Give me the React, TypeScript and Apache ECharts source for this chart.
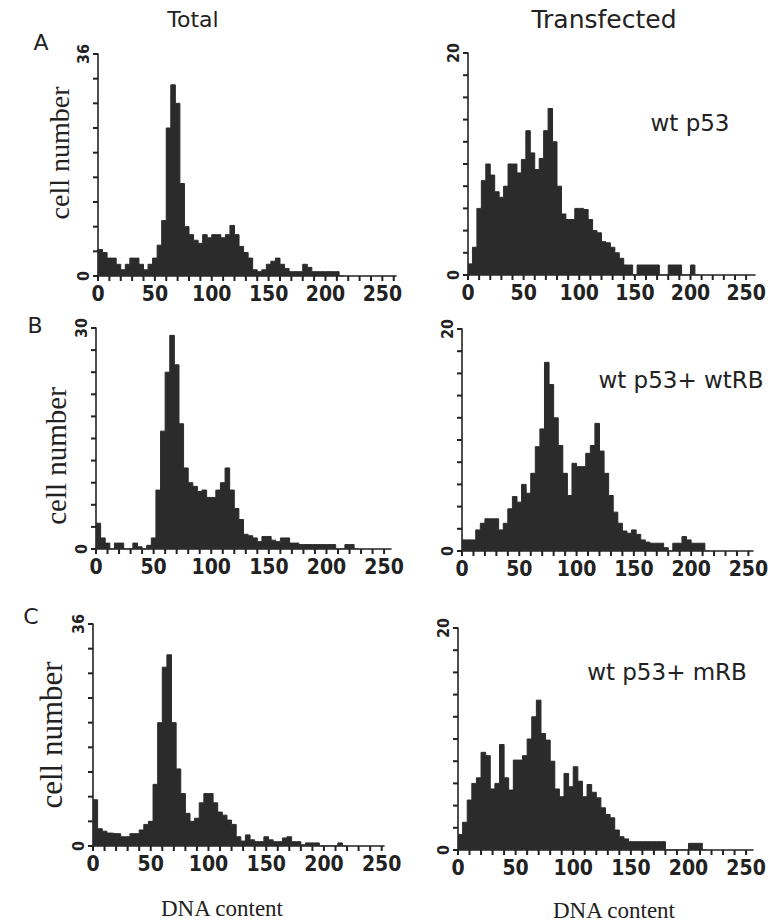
import React, { useEffect, useRef } from "react";
import * as echarts from "echarts";

// ---------- data (cell counts per 4-unit DNA-content bin, starting at 0) ----------
const BIN_WIDTH = 4;

const totalA = [4.3, 3.8, 2.9, 2.9, 1.9, 1, 1.9, 2.9, 2.9, 1.9, 1, 1.9, 2.9, 5, 9, 24, 31, 28, 15, 8, 6.7, 5.8, 5.3, 6.7, 6.2, 6.7, 6.7, 6.2, 6.7, 8.2, 6.7, 4.8, 3.8, 2.9, 1, 0.7, 1, 1.9, 2.4, 2.9, 1.9, 1.2, 0.7, 0.7, 0.7, 1.9, 1.4, 0.7, 0.7, 0.7, 0.7, 0.7, 0.7, 0];
const transA = [1, 2.5, 6, 8.5, 10, 9, 7.5, 7, 8, 10, 10, 9.2, 10.4, 13, 11, 9.5, 10.5, 13, 15, 12, 8, 5.5, 5, 5, 6, 6, 5.9, 5, 4, 3.8, 3, 2.9, 2.5, 2, 1.5, 0.9, 0.9, 0, 0.9, 0.9, 0.9, 0.9, 0.9, 0, 0, 0.9, 0.9, 0.9, 0, 0, 0.9, 0];
const totalB = [3.5, 1.5, 0.8, 0, 0.8, 0.8, 0, 0, 0.8, 0.3, 0, 0.5, 1.5, 8, 16, 24, 29, 25, 17, 11, 9, 8.5, 7.8, 8, 7, 7, 8, 9, 11, 8, 5.5, 4, 2, 1.8, 1.5, 1, 1.7, 1.7, 1.2, 1, 1.5, 1.5, 0.8, 0.8, 0.6, 0.6, 0.6, 0.6, 0.6, 0.6, 0.6, 0.6, 0, 0, 0.6, 0.6, 0];
const transB = [1, 1, 1, 1.9, 2.5, 2.9, 2.9, 2.9, 1.9, 2.5, 3.8, 4.9, 4.4, 6, 5.2, 7, 9.4, 11, 17, 15, 12, 9.5, 7, 5, 7.9, 7.6, 7.6, 8.8, 9.5, 11.5, 9, 7, 5, 3.5, 2.5, 1.8, 1.6, 1.9, 1.5, 1, 0.8, 0.7, 0.7, 0.7, 0.3, 0, 0.7, 0.7, 1.3, 1, 0.7, 0.7, 0.7, 0];
const totalC = [7.5, 2.8, 2.4, 2.1, 2, 2, 1.5, 1.5, 2, 2, 2.6, 3.5, 4, 10, 20, 29, 31, 20, 12.5, 8.5, 5.3, 4, 4.5, 7, 8.5, 8.5, 7, 5.5, 5, 4.2, 3.5, 1.5, 0.8, 1.8, 1, 0.7, 0.7, 1.5, 1, 0.7, 0.7, 1.3, 1.5, 0.7, 0.7, 0.2, 0.5, 0.5, 0.5, 0, 0, 0, 0, 0.5, 0];
const transC = [1.4, 2.5, 4.5, 6, 6.5, 8.8, 8.5, 5.5, 6, 9.5, 6.5, 5.4, 8.1, 8.1, 8.5, 10, 12, 13.5, 10.5, 9.9, 8, 5.5, 4.8, 6.9, 5.7, 7.5, 6.2, 4.8, 5.9, 5.2, 4.7, 3.8, 3.2, 2.9, 1.8, 1.2, 1, 0.75, 0.75, 0.75, 0.75, 0.75, 0.75, 0.75, 0.75, 0, 0, 0, 0, 0, 0.6, 0.6, 0.6, 0];

const seriesValues = [totalA, transA, totalB, transB, totalC, transC];
const yMaxValues = [36, 20, 30, 20, 36, 20];
const yTickSteps = [4, 2, 3, 2, 4, 2];
const X_TICK_STEP = 10;
const xTickLabels = [0, 50, 100, 150, 200, 250];

const columnTitles = ["Total", "Transfected"];
const rowLetters = ["A", "B", "C"];
const conditionLabels = ["wt p53", "wt p53+ wtRB", "wt p53+ mRB"];
const yAxisTitle = "cell number";
const xAxisTitle = "DNA content";

// ---------- layout (pixels) ----------
const GRIDS = [
  { left: 98, top: 54, width: 298, height: 222, xMax: 262 },
  { left: 468, top: 53, width: 287, height: 222, xMax: 258 },
  { left: 96, top: 328, width: 295, height: 221, xMax: 256 },
  { left: 462, top: 329, width: 291, height: 222, xMax: 254 },
  { left: 93, top: 624, width: 291, height: 222, xMax: 252 },
  { left: 458, top: 628, width: 295, height: 222, xMax: 256 },
];
const TICK_LEN = 5;

const INK = "#222";
const FILL = "#2b2b2b";
const NUM_FONT = '"Liberation Sans Narrow", "DejaVu Sans Condensed", "Arial Narrow", sans-serif';
const SANS = '"DejaVu Sans", "Liberation Sans", sans-serif';
const SERIF = '"Liberation Serif", "DejaVu Serif", serif';

function toSteps(values: number[]) {
  const pts: [number, number][] = values.map((v, i) => [i * BIN_WIDTH, v]);
  pts.push([values.length * BIN_WIDTH, 0]);
  return pts;
}

// tick positions in data units: [x, y, kind] kind 0 = x-axis tick, 1 = y-axis tick
function tickData(i: number) {
  const out: number[][] = [];
  for (let x = 0; x <= GRIDS[i].xMax; x += X_TICK_STEP) out.push([x, 0, 0]);
  for (let y = 0; y <= yMaxValues[i]; y += yTickSteps[i]) out.push([0, y, 1]);
  return out;
}

function text(x: number, y: number, t: string, size: number, family: string, rotation = 0) {
  return {
    type: "text",
    x,
    y,
    rotation,
    silent: true,
    style: {
      text: t,
      fontSize: size,
      fontFamily: family,
      fill: INK,
      align: "center",
      verticalAlign: "middle",
      textAlign: "center",
      textVerticalAlign: "middle",
    },
  };
}

export default function App() {
  const ref = useRef<HTMLDivElement>(null);

  useEffect(() => {
    if (!ref.current) return;
    const chart = echarts.init(ref.current, null, { renderer: "svg" });

    const grid = GRIDS.map((g) => ({
      left: g.left,
      top: g.top,
      width: g.width,
      height: g.height,
      containLabel: false,
      outerBoundsMode: "none",
    }));

    const xAxis = GRIDS.map((g, i) => ({
      type: "value",
      gridIndex: i,
      min: 0,
      max: g.xMax,
      interval: X_TICK_STEP,
      axisLine: { show: true, onZero: false, lineStyle: { color: INK, width: 1.6 } },
      axisTick: { show: false },
      splitLine: { show: false },
      axisLabel: {
        show: true,
        margin: 7,
        color: INK,
        fontFamily: NUM_FONT,
        fontWeight: "bold",
        fontSize: 21,
        showMaxLabel: false,
        formatter: (v: number) => (xTickLabels.includes(v) ? String(v) : ""),
      },
    }));

    const yAxis = GRIDS.map((g, i) => ({
      type: "value",
      gridIndex: i,
      min: 0,
      max: yMaxValues[i],
      interval: yTickSteps[i],
      axisLine: { show: true, onZero: false, lineStyle: { color: INK, width: 1.6 } },
      axisTick: { show: false },
      splitLine: { show: false },
      axisLabel: {
        show: true,
        rotate: 90,
        margin: 7,
        color: INK,
        fontFamily: NUM_FONT,
        fontWeight: "bold",
        fontSize: 16,
        formatter: (v: number) => (v === 0 || v === yMaxValues[i] ? String(v) : ""),
      },
    }));

    const histSeries = seriesValues.map((vals, i) => ({
      type: "line",
      xAxisIndex: i,
      yAxisIndex: i,
      step: "end",
      symbol: "none",
      data: toSteps(vals),
      lineStyle: { color: FILL, width: 1 },
      areaStyle: { color: FILL, opacity: 1 },
      silent: true,
      z: 1,
    }));

    const tickSeries = GRIDS.map((_, i) => ({
      type: "custom",
      xAxisIndex: i,
      yAxisIndex: i,
      clip: false,
      silent: true,
      z: 5,
      encode: { x: 0, y: 1 },
      data: tickData(i),
      renderItem: (_params: any, api: any) => {
        const p = api.coord([api.value(0), api.value(1)]);
        const isY = api.value(2) === 1;
        return {
          type: "rect",
          shape: isY
            ? { x: p[0] - TICK_LEN, y: p[1] - 1, width: TICK_LEN, height: 2 }
            : { x: p[0] - 1, y: p[1], width: 2, height: TICK_LEN },
          style: { fill: INK },
        };
      },
    }));

    const graphic = [
      text(193, 19, columnTitles[0], 22, SANS),
      text(604, 19, columnTitles[1], 25, SANS),
      text(41, 42, rowLetters[0], 22, SANS),
      text(35, 325, rowLetters[1], 22, SANS),
      text(31, 616, rowLetters[2], 22, SANS),
      text(690, 123, conditionLabels[0], 23, SANS),
      text(681, 380, conditionLabels[1], 23, SANS),
      text(667, 672, conditionLabels[2], 23, SANS),
      text(59, 153, yAxisTitle, 28, SERIF, Math.PI / 2),
      text(56, 456, yAxisTitle, 29, SERIF, Math.PI / 2),
      text(51, 735, yAxisTitle, 31, SERIF, Math.PI / 2),
      text(222, 908, xAxisTitle, 23, SERIF),
      text(614, 910, xAxisTitle, 23, SERIF),
    ];

    chart.setOption({
      animation: false,
      backgroundColor: "#fff",
      grid,
      xAxis,
      yAxis,
      series: [...histSeries, ...tickSeries],
      graphic,
    });

    return () => chart.dispose();
  }, []);

  return (
    <div
      ref={ref}
      style={{ position: "absolute", left: 0, top: 0, width: 768, height: 923 }}
    />
  );
}
